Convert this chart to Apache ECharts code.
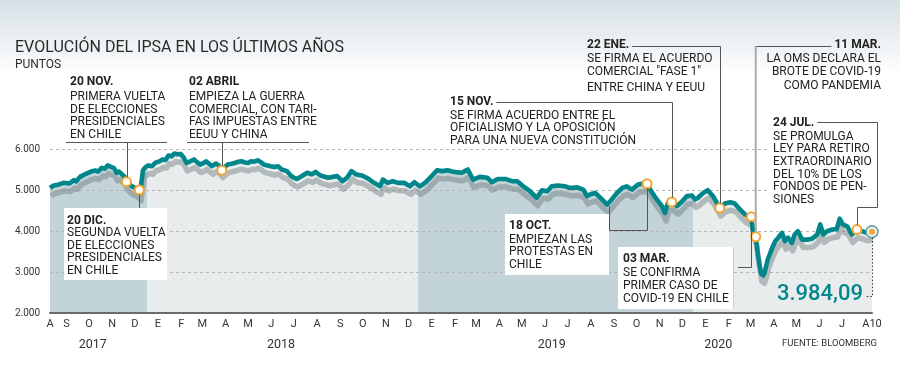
<!DOCTYPE html>
<html><head><meta charset="utf-8">
<script src="https://cdn.jsdelivr.net/npm/echarts@6/dist/echarts.min.js"></script>
<style>html,body{margin:0;padding:0;background:#fff}#c{width:900px;height:371px}</style>
</head><body><div id="c"></div>
<script>
// ---------------- DATA ----------------
const seriesDates = [
'2017-08-10','2017-08-15','2017-08-21','2017-08-28','2017-09-05','2017-09-11','2017-09-14','2017-09-19','2017-09-25','2017-09-30',
'2017-10-05','2017-10-09','2017-10-13','2017-10-18','2017-10-22','2017-10-26','2017-10-31','2017-11-03','2017-11-07','2017-11-10',
'2017-11-14','2017-11-17','2017-11-20','2017-11-24','2017-11-28','2017-12-02','2017-12-06','2017-12-08','2017-12-10','2017-12-12',
'2017-12-15','2017-12-19','2017-12-24','2017-12-28','2018-01-03','2018-01-07','2018-01-11','2018-01-15','2018-01-19','2018-01-23',
'2018-01-27','2018-01-31','2018-02-04','2018-02-08','2018-02-13','2018-02-18','2018-02-22','2018-02-26','2018-03-03','2018-03-06',
'2018-03-10','2018-03-14','2018-03-19','2018-03-23','2018-03-27','2018-03-31','2018-04-04','2018-04-09','2018-04-13','2018-04-18',
'2018-04-22','2018-04-27','2018-05-01','2018-05-05','2018-05-09','2018-05-14','2018-05-18','2018-05-22','2018-05-27','2018-05-31',
'2018-06-05','2018-06-10','2018-06-15','2018-06-22','2018-06-27','2018-07-01','2018-07-05','2018-07-12','2018-07-19','2018-07-25',
'2018-07-30','2018-08-05','2018-08-10','2018-08-16','2018-08-22','2018-08-28','2018-09-04','2018-09-10','2018-09-16','2018-09-22',
'2018-09-30','2018-10-06','2018-10-10','2018-10-16','2018-10-24','2018-10-28','2018-11-03','2018-11-10','2018-11-17','2018-11-25',
'2018-12-03','2018-12-09','2018-12-16','2018-12-23','2019-01-01','2019-01-08','2019-01-15','2019-01-22','2019-01-28','2019-02-03',
'2019-02-10','2019-02-18','2019-02-25','2019-03-06','2019-03-16','2019-03-22','2019-03-30','2019-04-09','2019-04-18','2019-04-25',
'2019-05-03','2019-05-12','2019-05-21','2019-05-28','2019-06-04','2019-06-10','2019-06-18','2019-06-28','2019-07-04','2019-07-14',
'2019-07-22','2019-07-27','2019-07-31','2019-08-07','2019-08-16','2019-08-23','2019-08-29','2019-09-05','2019-09-12','2019-09-18',
'2019-09-25','2019-10-03','2019-10-10','2019-10-15','2019-10-22','2019-10-28','2019-11-04','2019-11-08','2019-11-12','2019-11-17',
'2019-11-24','2019-12-01','2019-12-07','2019-12-14','2019-12-18','2019-12-22','2019-12-29','2020-01-04','2020-01-11','2020-01-16',
'2020-01-20','2020-01-27','2020-02-03','2020-02-09','2020-02-16','2020-02-23','2020-02-27','2020-03-02','2020-03-04','2020-03-08',
'2020-03-11','2020-03-15','2020-03-18','2020-03-20','2020-03-24','2020-03-30','2020-04-03','2020-04-07','2020-04-12','2020-04-16',
'2020-04-20','2020-04-25','2020-04-29','2020-05-03','2020-05-09','2020-05-15','2020-05-22','2020-05-29','2020-06-02','2020-06-06',
'2020-06-11','2020-06-18','2020-06-24','2020-06-28','2020-07-02','2020-07-08','2020-07-14','2020-07-21','2020-07-28','2020-08-03',
'2020-08-10'];
const seriesValues = [
5050,5110,5130,5175,5160,5240,5210,5320,5380,5420,
5460,5475,5450,5540,5520,5600,5560,5540,5420,5450,
5380,5330,5200,5130,5080,5050,4990,4930,4890,5480,
5550,5600,5580,5660,5700,5745,5730,5840,5820,5890,
5870,5880,5800,5660,5700,5745,5680,5620,5660,5700,
5640,5580,5645,5600,5500,5560,5620,5640,5660,5690,
5700,5670,5660,5700,5690,5725,5680,5620,5600,5580,
5560,5580,5500,5460,5350,5300,5270,5340,5420,5380,
5440,5360,5330,5300,5320,5340,5215,5300,5460,5380,
5355,5300,5255,5175,5090,5255,5175,5215,5175,5175,
5090,5190,5090,5175,5340,5480,5460,5480,5450,5435,
5420,5500,5255,5320,5300,5190,5270,5270,5215,5215,
5090,4970,4810,4995,4970,5090,5110,5090,5050,5065,
5010,4850,4890,4930,4770,4645,4770,4930,5050,5090,
5010,5135,5160,5150,4930,4770,4605,4440,4690,4710,
4605,4725,4850,4865,4770,4810,4930,4995,4850,4690,
4560,4670,4700,4670,4525,4400,4360,4345,4035,3860,
3400,2960,2920,3000,3305,3590,3750,3835,3955,3750,
3835,3710,3915,3995,3790,3790,3810,3915,4160,3915,
3995,4035,4050,4300,4160,4115,3915,4035,3995,3955,
3984.09];

const tickDates = ['2017-08-10','2017-09-01','2017-10-01','2017-11-01','2017-12-01',
'2018-01-01','2018-02-01','2018-03-01','2018-04-01','2018-05-01','2018-06-01','2018-07-01','2018-08-01','2018-09-01','2018-10-01','2018-11-01','2018-12-01',
'2019-01-01','2019-02-01','2019-03-01','2019-04-01','2019-05-01','2019-06-01','2019-07-01','2019-08-01','2019-09-01','2019-10-01','2019-11-01','2019-12-01',
'2020-01-01','2020-02-01','2020-03-01','2020-04-01','2020-05-01','2020-06-01','2020-07-01','2020-08-10'];
const tickLabels = ['A','S','O','N','D',
'E','F','M','A','M','J','J','A','S','O','N','D',
'E','F','M','A','M','J','J','A','S','O','N','D',
'E','F','M','A','M','J','J','A10'];
const yearDates = ['2017-10-06','2018-06-14','2019-06-10','2020-01-18'];
const yearLabels = ['2017','2018','2019','2020'];
const bandBreaks = ['2017-12-17','2018-12-14','2019-12-16'];
const bandColors = ['#c3d4d9','#e8ecec','#c3d4d9','#e8ecec'];

const eventNames = ['20 NOV.','20 DIC.','02 ABRIL','18 OCT.','15 NOV.','22 ENE.','03 MAR.','11 MAR.','24 JUL.'];
const eventDates = ['2017-11-20','2017-12-07','2018-03-27','2019-10-15','2019-11-17','2020-01-20','2020-03-02','2020-03-08','2020-07-21'];
const eventValues = [5200,5000,5480,5150,4710,4560,4345,3860,4035];
const lastDate = '2020-08-10';
const lastValue = 3984.09;
const axisMin = '2017-08-10', axisMax = '2020-08-10';

// ---------------- CHART ----------------
const T = d => echarts.time.parse(d).getTime();
const FONT = 'Roboto, "Noto Sans", sans-serif';
const TEAL = '#00878b', ORANGE = '#f5a430';
const chart = echarts.init(document.getElementById('c'), null, {renderer:'canvas'});

const tMin = T(axisMin), tMax = T(axisMax);
const stops = [];
const brk = bandBreaks.map(d => (T(d)-tMin)/(tMax-tMin));
const edges = [0, ...brk, 1];
for (let i = 0; i < bandColors.length; i++) {
  stops.push({offset: edges[i], color: bandColors[i]});
  stops.push({offset: edges[i+1], color: bandColors[i]});
}
const lineData = seriesDates.map((d,i) => [T(d), seriesValues[i]]);
const tickMap = new Map(tickDates.map((d,i) => [T(d), tickLabels[i]]));
const yearMap = new Map(yearDates.map((d,i) => [T(d), yearLabels[i]]));

chart.setOption({
  animation: false,
  grid: [{left: 50, right: 28, top: 149, bottom: 58},
         {left: 51, right: 27, top: 157, bottom: 50}],
  xAxis: [{
    type: 'value', min: tMin, max: tMax, position: 'bottom', z: 6, gridIndex: 0,
    axisLine: {show: true, onZero: false, lineStyle: {color: '#6b6b6b', width: 2}},
    axisTick: {show: false}, splitLine: {show: false},
    axisLabel: {customValues: tickDates.map(T), margin: 6, fontSize: 11, color: '#333', fontFamily: FONT,
      showMinLabel: true, showMaxLabel: true,
      formatter: v => tickMap.get(v) || ''}
  }, {
    type: 'value', min: tMin, max: tMax, position: 'bottom', gridIndex: 0,
    axisLine: {show: false}, axisTick: {show: false}, splitLine: {show: false},
    axisLabel: {customValues: yearDates.map(T), margin: 25, fontSize: 12.5, color: '#333', fontFamily: FONT,
      formatter: v => yearMap.get(v) || ''}
  }, {
    type: 'value', min: tMin, max: tMax, gridIndex: 1, show: false
  }],
  yAxis: [{
    type: 'value', min: 2000, max: 6000, interval: 1000, z: 2, gridIndex: 0,
    axisLine: {show: false}, axisTick: {show: false},
    axisLabel: {margin: 10, fontSize: 10, color: '#333', fontFamily: FONT, formatter: v => (v/1000).toFixed(3)},
    splitLine: {show: true, lineStyle: {color: '#b5b5b5', type: [3,3], width: 1}}
  }, {
    type: 'value', min: 2000, max: 6000, interval: 1000, gridIndex: 1, show: false
  }],
  series: [{
    type: 'line', data: lineData, symbol: 'none', z: 1,
    lineStyle: {width: 0},
    areaStyle: {origin: 'start', opacity: 1, color: new echarts.graphic.LinearGradient(0,0,1,0, stops)}
  }, {
    // drop shadow of the index line
    type: 'line', data: lineData, symbol: 'none', z: 3, xAxisIndex: 2, yAxisIndex: 1, clip: false,
    lineStyle: {color: 'rgba(100,114,116,0.42)', width: 5.5, join: 'round'}
  }, {
    type: 'line', data: lineData, symbol: 'none', z: 4,
    lineStyle: {color: TEAL, width: 4.6, join: 'round'}
  }, {
    type: 'scatter', z: 8, symbol: 'circle', symbolSize: 9,
    data: eventDates.map((d,i) => [T(d), eventValues[i]]),
    itemStyle: {color: '#fff', borderColor: ORANGE, borderWidth: 2, opacity: 1}
  }, {
    type: 'scatter', z: 8, symbol: 'circle', symbolSize: 12,
    data: [[T(lastDate), lastValue]],
    itemStyle: {color: '#e6efef', borderColor: '#5b9da2', borderWidth: 1.5, opacity: 1}
  }, {
    type: 'scatter', z: 9, symbol: 'circle', symbolSize: 6,
    data: [[T(lastDate), lastValue]],
    itemStyle: {color: ORANGE, opacity: 1}
  }]
});

// ---------------- ANNOTATIONS ----------------
const P = (d, v) => chart.convertToPixel({xAxisIndex: 0, yAxisIndex: 0}, [T(d), v]);
const ev = eventNames.map((n,i) => P(eventDates[i], eventValues[i]));
const endP = P(lastDate, lastValue);
const mctx = document.createElement('canvas').getContext('2d');
const measure = (s, f) => { mctx.font = f; return mctx.measureText(s).width; };
const fReg = '12px ' + FONT, fBold = 'bold 12px ' + FONT;
const R = 4.5;
const g = [];
const h = v => Math.round(v) + 0.5;

function txt(x, y, s, font, align, color) {
  g.push({type: 'text', z: 100, style: {x, y, text: s, font: font || fReg, fill: color || '#222',
    align: align || 'left', verticalAlign: 'middle'}});
}
function lines(x, y0, lh, arr, align) { arr.forEach((s,i) => txt(x, y0 + i*lh, s, fReg, align)); }
function pl(pts, color, w, dash) {
  g.push({type: 'polyline', z: 99, shape: {points: pts},
    style: {stroke: color || '#555', lineWidth: w || 1, fill: null, lineDash: dash || null}});
}
function box(x, y, w, hh) { g.push({type: 'rect', z: 98, shape: {x, y, width: w, height: hh}, style: {fill: '#fff'}}); }

// background band
g.push({type: 'rect', z: -5, shape: {x: 0, y: 0, width: 900, height: 74},
  style: {fill: new echarts.graphic.LinearGradient(0,0,0,1,[{offset:0,color:'#d5e0e5'},{offset:0.6,color:'#eef2f4'},{offset:1,color:'#ffffff'}])}});
txt(15, 47.5, 'EVOLUCIÓN DEL IPSA EN LOS ÚLTIMOS AÑOS', '16px ' + FONT, 'left', '#2a2a2a');
txt(15, 64.5, 'PUNTOS', '12px ' + FONT, 'left', '#2a2a2a');

// 20 NOV.
txt(70, 81.7, eventNames[0], fBold);
lines(70, 97, 12.6, ['PRIMERA VUELTA', 'DE ELECCIONES', 'PRESIDENCIALES', 'EN CHILE']);
pl([[66, 142.5], [167, 142.5]]);
pl([[h(ev[0][0]), 142.5], [h(ev[0][0]), ev[0][1] - R]]);

// 02 ABRIL
txt(189, 81.7, eventNames[2], fBold);
lines(189, 97, 12.6, ['EMPIEZA LA GUERRA', 'COMERCIAL, CON TARI-', 'FAS IMPUESTAS ENTRE', 'EEUU Y CHINA']);
pl([[187, 142.5], [309, 142.5]]);
pl([[h(ev[2][0]), 142.5], [h(ev[2][0]), ev[2][1] - R]]);

// 20 DIC.
box(64, 208, 103, 72);
txt(67, 220.5, eventNames[1], fBold);
lines(67, 233, 12.6, ['SEGUNDA VUELTA', 'DE ELECCIONES', 'PRESIDENCIALES', 'EN CHILE']);
pl([[h(ev[1][0]), ev[1][1] + R], [h(ev[1][0]), 208]]);

// 15 NOV.
txt(450, 101.7, eventNames[4], fBold);
lines(450, 115.5, 12.5, ['SE FIRMA ACUERDO ENTRE EL', 'OFICIALISMO Y LA OPOSICIÓN', 'PARA UNA NUEVA CONSTITUCIÓN']);
{ const x0 = 450 + measure(eventNames[4], fBold) + 3;
  pl([[x0, 102.5], [h(ev[4][0]), 102.5], [h(ev[4][0]), ev[4][1] - R]]); }

// 22 ENE.
txt(587, 45, eventNames[5], fBold);
txt(587, 59, 'SE FIRMA EL ACUERDO');
txt(587, 72, 'COMERCIAL "FASE 1"');
txt(587, 87.7, 'ENTRE CHINA Y EEUU');
{ const x0 = 587 + measure(eventNames[5], fBold) + 3;
  pl([[x0, 46.5], [h(ev[5][0]), 46.5], [h(ev[5][0]), ev[5][1] - R]]); }

// 11 MAR.
txt(881, 45, eventNames[7], fBold, 'right');
lines(881, 59, 13.4, ['LA OMS DECLARA EL', 'BROTE DE COVID-19', 'COMO PANDEMIA'], 'right');
{ const x1 = 881 - measure(eventNames[7], fBold) - 3;
  pl([[ev[7][0], 46.5], [x1, 46.5]]);
  pl([[ev[7][0], 46], [ev[7][0], ev[7][1] - R]], '#ababab', 2); }

// 24 JUL.
box(770, 116, 107, 91);
txt(773, 123.3, eventNames[8], fBold);
lines(773, 136.8, 12.6, ['SE PROMULGA', 'LEY PARA RETIRO', 'EXTRAORDINARIO', 'DEL 10% DE LOS', 'FONDOS DE PEN-', 'SIONES']);
{ const x0 = 773 + measure(eventNames[8], fBold) + 3;
  pl([[x0, 122.5], [877.5, 122.5], [877.5, 207.5], [h(ev[8][0]), 207.5], [h(ev[8][0]), ev[8][1] - R]]); }

// 18 OCT.
box(505, 214, 104, 61);
txt(509, 226, eventNames[3], fBold);
lines(509, 239.5, 12.6, ['EMPIEZAN LAS', 'PROTESTAS EN', 'CHILE']);
pl([[609.5, 206], [609.5, 230.5], [h(ev[3][0]), 230.5], [h(ev[3][0]), ev[3][1] + R]]);

// 03 MAR.
box(618, 247, 115, 62);
pl([[733.5, 247], [733.5, 309]], '#cfcfcf', 1);
txt(623, 259, eventNames[6], fBold);
lines(623, 273.3, 12.6, ['SE CONFIRMA', 'PRIMER CASO DE', 'COVID-19 EN CHILE']);
pl([[738, 267.5], [h(ev[6][0]), 267.5], [h(ev[6][0]), ev[6][1] + R]]);

// last value
txt(863, 294, '3.984,09', '500 22px ' + FONT, 'right', TEAL);
pl([[h(endP[0]), endP[1] + 6], [h(endP[0]), 296.5], [865, 296.5]], '#333', 1, [1.5, 2]);

// source
txt(877, 344, 'FUENTE: BLOOMBERG', '9.5px ' + FONT, 'right', '#333');

chart.setOption({graphic: {elements: g}});
</script>
</body></html>
